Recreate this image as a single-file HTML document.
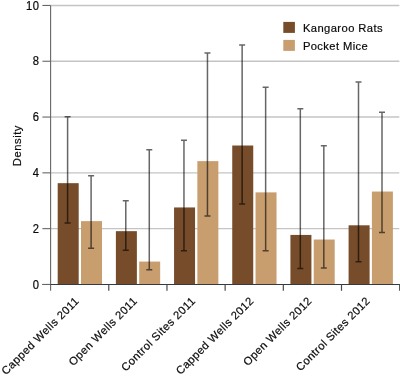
<!DOCTYPE html>
<html><head><meta charset="utf-8"><style>
html,body{margin:0;padding:0;background:#fff;width:400px;height:376px;overflow:hidden}
svg{display:block;will-change:transform}
.t{font-family:"Liberation Sans",sans-serif;font-size:11.2px;letter-spacing:0.55px;fill:#0a0a0a;stroke:#0a0a0a;stroke-width:0.2px}
.xl{letter-spacing:0.3px}
</style></head><body>
<svg width="400" height="376" viewBox="0 0 400 376">
<line x1="50.6" x2="399.3" y1="228.65" y2="228.65" stroke="#c4c4c4" stroke-width="1.4"/>
<line x1="50.6" x2="399.3" y1="172.85" y2="172.85" stroke="#c4c4c4" stroke-width="1.4"/>
<line x1="50.6" x2="399.3" y1="117.05" y2="117.05" stroke="#c4c4c4" stroke-width="1.4"/>
<line x1="50.6" x2="399.3" y1="61.25" y2="61.25" stroke="#c4c4c4" stroke-width="1.4"/>
<line x1="50.6" x2="399.3" y1="5.45" y2="5.45" stroke="#c4c4c4" stroke-width="1.4"/>
<rect x="57.70" y="183.17" width="21.0" height="101.28" fill="#764c2a"/>
<rect x="81.00" y="221.12" width="21.0" height="63.33" fill="#c89e6f"/>
<g opacity="0.6"><path d="M67.60 116.77V223.07M64.60 223.07H70.60M64.60 116.77H70.60M91.10 175.64V248.18M88.10 248.18H94.10M88.10 175.64H94.10" stroke="#000" stroke-width="1.5" fill="none"/></g>
<rect x="115.88" y="231.16" width="21.0" height="53.29" fill="#764c2a"/>
<rect x="139.18" y="261.57" width="21.0" height="22.88" fill="#c89e6f"/>
<g opacity="0.6"><path d="M125.78 200.75V250.13M122.78 250.13H128.78M122.78 200.75H128.78M149.28 149.69V269.66M146.28 269.66H152.28M146.28 149.69H152.28" stroke="#000" stroke-width="1.5" fill="none"/></g>
<rect x="174.06" y="207.45" width="21.0" height="77.00" fill="#764c2a"/>
<rect x="197.36" y="161.13" width="21.0" height="123.32" fill="#c89e6f"/>
<g opacity="0.6"><path d="M183.96 140.21V250.69M180.96 250.69H186.96M180.96 140.21H186.96M207.46 52.88V216.09M204.46 216.09H210.46M204.46 52.88H210.46" stroke="#000" stroke-width="1.5" fill="none"/></g>
<rect x="232.24" y="145.51" width="21.0" height="138.94" fill="#764c2a"/>
<rect x="255.54" y="192.38" width="21.0" height="92.07" fill="#c89e6f"/>
<g opacity="0.6"><path d="M242.14 45.07V204.10M239.14 204.10H245.14M239.14 45.07H245.14M265.64 87.20V250.69M262.64 250.69H268.64M262.64 87.20H268.64" stroke="#000" stroke-width="1.5" fill="none"/></g>
<rect x="290.42" y="234.93" width="21.0" height="49.52" fill="#764c2a"/>
<rect x="313.72" y="239.53" width="21.0" height="44.92" fill="#c89e6f"/>
<g opacity="0.6"><path d="M300.32 108.68V268.55M297.32 268.55H303.32M297.32 108.68H303.32M323.82 145.79V267.99M320.82 267.99H326.82M320.82 145.79H326.82" stroke="#000" stroke-width="1.5" fill="none"/></g>
<rect x="348.60" y="225.30" width="21.0" height="59.15" fill="#764c2a"/>
<rect x="371.90" y="191.54" width="21.0" height="92.91" fill="#c89e6f"/>
<g opacity="0.6"><path d="M358.50 81.90V261.85M355.50 261.85H361.50M355.50 81.90H361.50M382.00 112.31V232.56M379.00 232.56H385.00M379.00 112.31H385.00" stroke="#000" stroke-width="1.5" fill="none"/></g>
<line x1="50.6" x2="50.6" y1="5.45" y2="290.8" stroke="#666" stroke-width="1.1"/>
<line x1="42.4" x2="400" y1="284.45" y2="284.45" stroke="#353a40" stroke-width="1.1"/>
<line x1="42.4" x2="50.6" y1="284.45" y2="284.45" stroke="#666" stroke-width="1.1"/>
<text transform="translate(39.5,288.65) scale(1,1.08)" text-anchor="end" class="t">0</text>
<line x1="42.4" x2="50.6" y1="228.65" y2="228.65" stroke="#666" stroke-width="1.1"/>
<text transform="translate(39.5,232.85) scale(1,1.08)" text-anchor="end" class="t">2</text>
<line x1="42.4" x2="50.6" y1="172.85" y2="172.85" stroke="#666" stroke-width="1.1"/>
<text transform="translate(39.5,177.05) scale(1,1.08)" text-anchor="end" class="t">4</text>
<line x1="42.4" x2="50.6" y1="117.05" y2="117.05" stroke="#666" stroke-width="1.1"/>
<text transform="translate(39.5,121.25) scale(1,1.08)" text-anchor="end" class="t">6</text>
<line x1="42.4" x2="50.6" y1="61.25" y2="61.25" stroke="#666" stroke-width="1.1"/>
<text transform="translate(39.5,65.45) scale(1,1.08)" text-anchor="end" class="t">8</text>
<line x1="42.4" x2="50.6" y1="5.45" y2="5.45" stroke="#666" stroke-width="1.1"/>
<text transform="translate(39.5,9.65) scale(1,1.08)" text-anchor="end" class="t">10</text>
<line x1="108.78" x2="108.78" y1="284.45" y2="290.8" stroke="#4a4a4a" stroke-width="1.2"/>
<line x1="166.96" x2="166.96" y1="284.45" y2="290.8" stroke="#4a4a4a" stroke-width="1.2"/>
<line x1="225.14" x2="225.14" y1="284.45" y2="290.8" stroke="#4a4a4a" stroke-width="1.2"/>
<line x1="283.32" x2="283.32" y1="284.45" y2="290.8" stroke="#4a4a4a" stroke-width="1.2"/>
<line x1="341.50" x2="341.50" y1="284.45" y2="290.8" stroke="#4a4a4a" stroke-width="1.2"/>
<line x1="399.68" x2="399.68" y1="284.45" y2="290.8" stroke="#4a4a4a" stroke-width="1.2"/>
<text transform="translate(79.79,301.6) rotate(-45)" text-anchor="end" class="t" style="letter-spacing:0.46px">Capped Wells 2011</text>
<text transform="translate(137.97,301.6) rotate(-45)" text-anchor="end" class="t" style="letter-spacing:0.46px">Open Wells 2011</text>
<text transform="translate(196.15,301.6) rotate(-45)" text-anchor="end" class="t" style="letter-spacing:0.46px">Control Sites 2011</text>
<text transform="translate(254.33,301.6) rotate(-45)" text-anchor="end" class="t" style="letter-spacing:0.4px">Capped Wells 2012</text>
<text transform="translate(312.51,301.6) rotate(-45)" text-anchor="end" class="t" style="letter-spacing:0.4px">Open Wells 2012</text>
<text transform="translate(370.69,301.6) rotate(-45)" text-anchor="end" class="t" style="letter-spacing:0.4px">Control Sites 2012</text>
<text transform="translate(20.8,145.6) rotate(-90)" text-anchor="middle" class="t">Density</text>
<rect x="283.3" y="21.9" width="11.6" height="11" fill="#764c2a"/>
<rect x="283.3" y="39.9" width="11.6" height="11" fill="#c89e6f"/>
<text x="302.9" y="32" class="t" style="letter-spacing:0.42px">Kangaroo Rats</text>
<text x="302.9" y="50" class="t" style="letter-spacing:0.4px">Pocket Mice</text>
</svg>
</body></html>
